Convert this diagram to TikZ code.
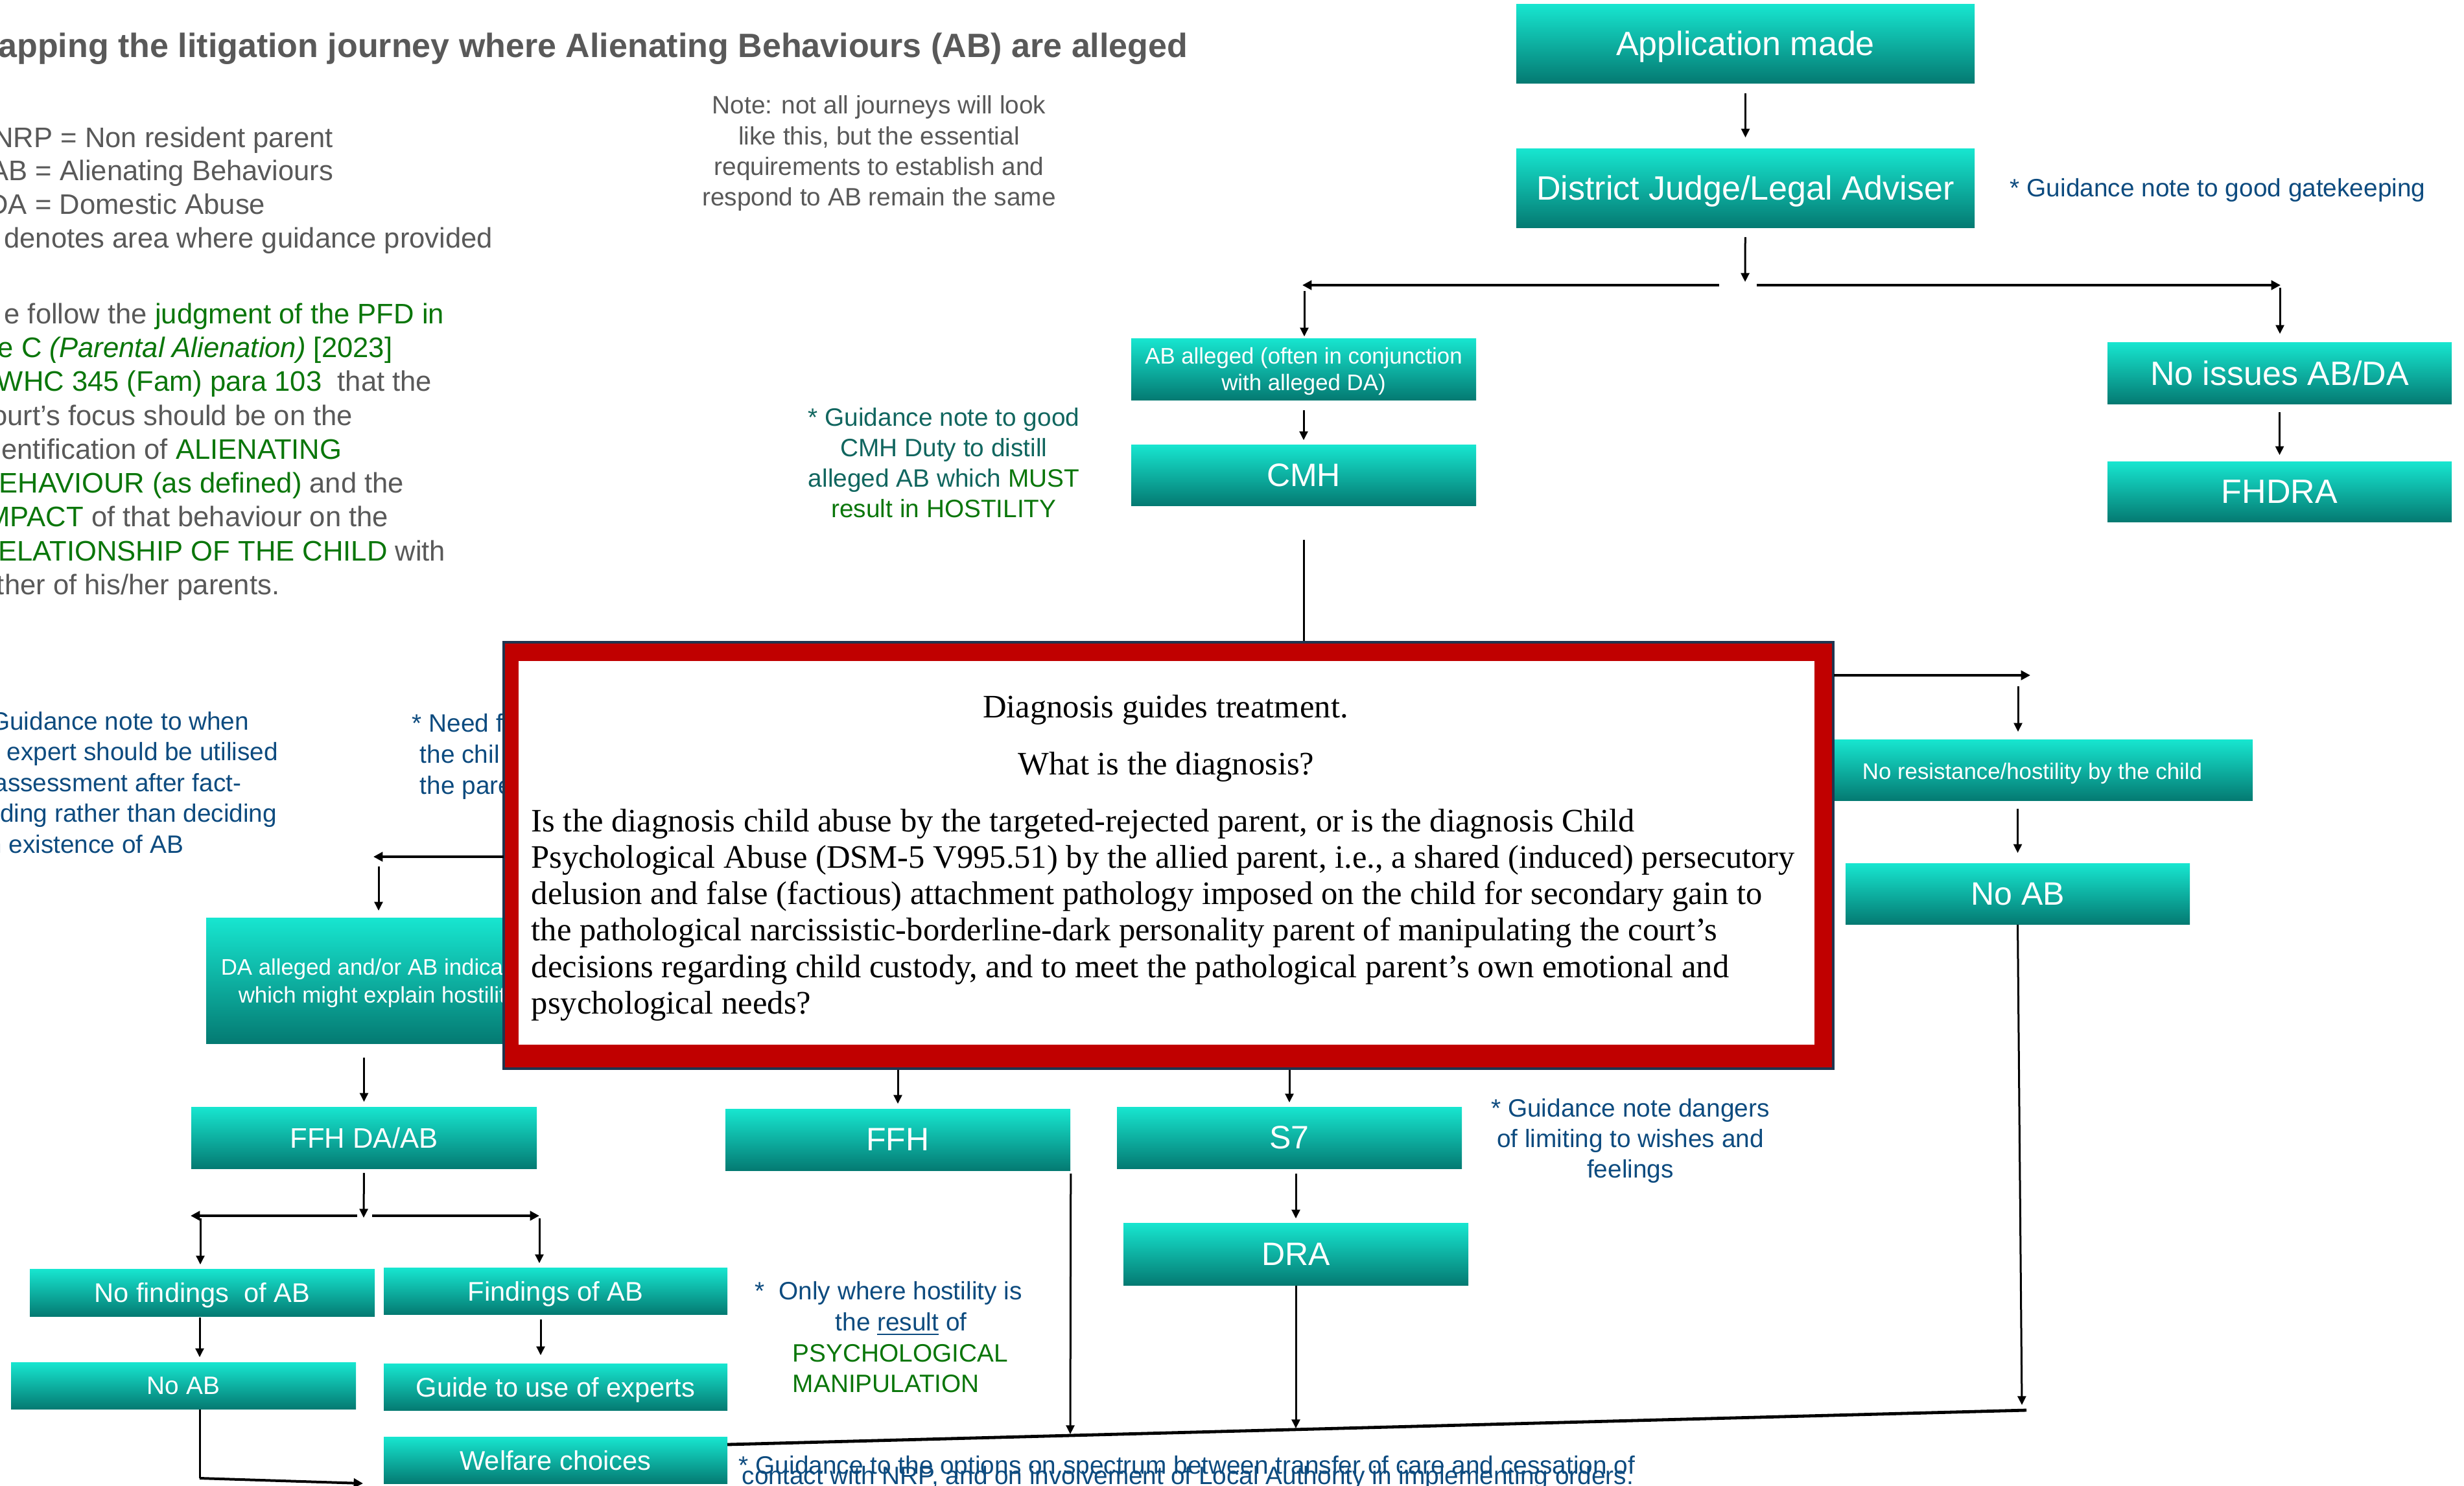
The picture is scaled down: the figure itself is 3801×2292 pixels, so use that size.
\documentclass[tikz,border=0pt]{standalone}
\usepackage{fontspec}
\setmainfont{Liberation Sans}
\newfontfamily\dxfont{Liberation Serif}
\usetikzlibrary{arrows.meta}
\definecolor{tealtop}{HTML}{17E6D0}
\definecolor{tealbot}{HTML}{047A72}
\definecolor{txtgray}{HTML}{595959}
\definecolor{lawgreen}{HTML}{0A760A}
\definecolor{noteblue}{HTML}{0D4B7F}
\definecolor{noteteal}{HTML}{11665F}
\definecolor{boxred}{HTML}{C00000}
\definecolor{boxnavy}{HTML}{1F3550}
\newcommand\G[1]{\textcolor{lawgreen}{#1}}
\newcommand\bx[7][]{\node[tbox,minimum width={(#5-#3)*0.25pt},minimum height={(#6-#4)*0.25pt},#1] (#2) at ({(#3+#5)/2},{(#4+#6)/2}) {#7};}
\tikzset{
  tbox/.style={rectangle,inner sep=0pt,top color=tealtop,bottom color=tealbot,text=white,align=center,text depth=0pt},
  txt/.style={inner sep=0pt},
  fbig/.style={font=\fontsize{13}{15.6}\selectfont},
  flab/.style={font=\fontsize{12.5}{15}\selectfont},
  fmid/.style={font=\fontsize{10.4}{12.5}\selectfont},
  fsml/.style={font=\fontsize{8.7}{10.25}\selectfont},
  fleg/.style={font=\fontsize{10.9}{13}\selectfont},
  fnote/.style={font=\fontsize{9.7}{11.6}\selectfont},
  fdx/.style={font=\dxfont\fontsize{12.65}{14}\selectfont},
  arr/.style={draw=black,line width=0.75pt,-{Triangle[length=3.4pt,width=3.2pt]}},
  harr/.style={draw=black,line width=1pt,-{Triangle[length=3.6pt,width=3.6pt]}},
  ln/.style={draw=black,line width=0.75pt},
}
\begin{document}
\begin{tikzpicture}[x=0.25pt,y=-0.25pt]
\useasboundingbox (0,0) rectangle (3801,2292);
\fill[white] (0,0) rectangle (3801,2292);
\clip (0,0) rectangle (3801,2292);

% ---------- title and legend ----------
\node[txt,anchor=base east,text=txtgray,font=\bfseries\fontsize{13}{15.6}\selectfont] (title) at (1833,88) {apping the litigation journey where Alienating Behaviours (AB) are alleged};
\node[txt,fleg,anchor=base east,text=txtgray] (lg1) at (515,227) {NRP = Non resident parent};
\node[txt,fleg,anchor=base east,text=txtgray] (lg2) at (515,278) {AB = Alienating Behaviours};
\node[txt,fleg,anchor=base east,text=txtgray] (lg3) at (410,330) {DA = Domestic Abuse};
\node[txt,fleg,anchor=base east,text=txtgray] (lg4) at (761,382) {denotes area where guidance provided};

\node[txt,fleg,anchor=base east,text=txtgray] (p1) at (686,499) {e follow the \G{judgment of the PFD in}};
\node[txt,fleg,anchor=base east,text=txtgray] (p2) at (606,551) {\G{e C \textit{(Parental Alienation)} [2023]}};
\node[txt,fleg,anchor=base east,text=txtgray] (p3) at (667,603) {\G{WHC 345 (Fam) para 103}\ \ that the};
\node[txt,fleg,anchor=base east,text=txtgray] (p4) at (545,656) {ourt’s focus should be on the};
\node[txt,fleg,anchor=base east,text=txtgray] (p5) at (528,708) {entification of \G{ALIENATING}};
\node[txt,fleg,anchor=base east,text=txtgray] (p6) at (624,760) {\G{EHAVIOUR (as defined)} and the};
\node[txt,fleg,anchor=base east,text=txtgray] (p7) at (600,812) {\G{MPACT} of that behaviour on the};
\node[txt,fleg,anchor=base east,text=txtgray] (p8) at (688,865) {\G{ELATIONSHIP OF THE CHILD} with};
\node[txt,fleg,anchor=base east,text=txtgray] (p9) at (432,917) {ther of his/her parents.};

\node[txt,fnote,anchor=base,text=txtgray] (nt1) at (1356,175) {Note: not all journeys will look};
\node[txt,fnote,anchor=base,text=txtgray] (nt2) at (1356,223) {like this, but the essential};
\node[txt,fnote,anchor=base,text=txtgray] (nt3) at (1356,270) {requirements to establish and};
\node[txt,fnote,anchor=base,text=txtgray] (nt4) at (1356,317) {respond to AB remain the same};

% ---------- notes ----------
\node[txt,fnote,anchor=base west,text=noteblue] (gk) at (3100,303) {* Guidance note to good gatekeeping};

\node[txt,fnote,anchor=base,text=noteteal] (cm1) at (1456,657) {* Guidance note to good};
\node[txt,fnote,anchor=base,text=noteteal] (cm2) at (1456,704) {CMH Duty to distill};
\node[txt,fnote,anchor=base,text=noteteal] (cm3) at (1456,751) {alleged AB which \G{MUST}};
\node[txt,fnote,anchor=base,text=lawgreen] (cm4) at (1456,798) {result in HOSTILITY};

\node[txt,fnote,anchor=base east,text=noteblue] (ex1) at (385,1126) {Guidance note to when};
\node[txt,fnote,anchor=base east,text=noteblue] (ex2) at (430,1173) {n expert should be utilised};
\node[txt,fnote,anchor=base east,text=noteblue] (ex3) at (373,1221) {assessment after fact-};
\node[txt,fnote,anchor=base east,text=noteblue] (ex4) at (428,1268) {ding rather than deciding};
\node[txt,fnote,anchor=base east,text=noteblue] (ex5) at (284,1316) {n existence of AB};

\node[txt,fnote,anchor=base west,text=noteblue] (nf1) at (635,1129) {* Need f};
\node[txt,fnote,anchor=base west,text=noteblue] (nf2) at (647,1177) {the chil};
\node[txt,fnote,anchor=base west,text=noteblue] (nf3) at (647,1225) {the pare};

\node[txt,fnote,anchor=base,text=noteblue] (dn1) at (2515,1723) {* Guidance note dangers};
\node[txt,fnote,anchor=base,text=noteblue] (dn2) at (2515,1770) {of limiting to wishes and};
\node[txt,fnote,anchor=base,text=noteblue] (dn3) at (2515,1817) {feelings};

\node[txt,fnote,anchor=base west,text=noteblue] (ow1) at (1164,2005) {*~~Only where hostility is};
\node[txt,fnote,anchor=base,text=noteblue] (ow2) at (1390,2053) {the \underline{result} of};
\node[txt,fnote,anchor=base west,text=lawgreen] (ow3) at (1222,2101) {PSYCHOLOGICAL};
\node[txt,fnote,anchor=base west,text=lawgreen] (ow4) at (1222,2148) {MANIPULATION};

\node[txt,fnote,anchor=base west,text=noteblue] (bt1) at (1139,2274) {* Guidance to the options on spectrum between transfer of care and cessation of};
\node[txt,fnote,anchor=base west,text=noteblue] (bt2) at (1144,2290) {contact with NRP, and on involvement of Local Authority in implementing orders.};

% ---------- boxes ----------
\bx[fbig]{app}{2339}{6}{3046}{128}{Application made}
\bx[fbig]{dj}{2339}{229}{3046}{351}{District Judge/Legal Adviser}
\bx[fsml]{aba}{1745}{522}{2277}{617}{AB alleged (often in conjunction\\with alleged DA)}
\bx[flab]{cmh}{1745}{686}{2277}{780}{CMH}
\bx[fbig]{noiss}{3251}{528}{3782}{623}{No issues AB/DA}
\bx[fbig]{fhdra}{3251}{712}{3782}{805}{FHDRA}
\bx{nores}{2829}{1141}{3475}{1235}{}
\node[txt,fsml,text=white,text depth=0pt] (nrtxt) at (3135,1190) {No resistance/hostility by the child};
\bx[flab]{noab}{2847}{1332}{3378}{1426}{No AB}
\bx{da}{318}{1416}{900}{1610}{}
\node[txt,fsml,anchor=base west,text=white] (da1) at (340,1504) {DA alleged and/or AB indicat};
\node[txt,fsml,anchor=base west,text=white] (da2) at (367,1547) {which might explain hostilit};
\bx[fleg]{ffhda}{295}{1708}{828}{1803}{FFH DA/AB}
\bx[flab]{ffh}{1119}{1711}{1651}{1806}{FFH}
\bx[flab]{s7}{1723}{1708}{2255}{1803}{S7}
\bx[flab]{dra}{1733}{1887}{2265}{1983}{DRA}
\bx[fmid]{nofind}{46}{1958}{578}{2031}{No findings\ \ of AB}
\bx[fmid]{find}{592}{1956}{1122}{2028}{Findings of AB}
\bx[fnote]{noabs}{17}{2102}{549}{2174}{No AB}
\bx[fmid]{guide}{592}{2104}{1122}{2176}{Guide to use of experts}
\bx[fmid]{welf}{592}{2217}{1122}{2289}{Welfare choices}

% ---------- diagnosis box ----------
\node[draw=boxnavy,line width=1pt,fill=boxred,inner sep=0pt,minimum width={(2828-777)*0.25pt},minimum height={(1649-991)*0.25pt}] (diag) at ({(777+2828)/2},{(991+1649)/2}) {};
\node[fill=white,inner sep=0pt,minimum width={(2799-800)*0.25pt},minimum height={(1612-1020)*0.25pt}] (diagin) at ({(800+2799)/2},{(1020+1612)/2}) {};
\node[txt,fdx,anchor=base] (dg1) at (1798,1107) {Diagnosis guides treatment.};
\node[txt,fdx,anchor=base] (dg2) at (1799,1195) {What is the diagnosis?};
\node[txt,fdx,anchor=base west] (dg3) at (819,1283) {Is the diagnosis child abuse by the targeted-rejected parent, or is the diagnosis Child};
\node[txt,fdx,anchor=base west] (dg4) at (819,1339) {Psychological Abuse (DSM-5 V995.51) by the allied parent, i.e., a shared (induced) persecutory};
\node[txt,fdx,anchor=base west] (dg5) at (819,1395) {delusion and false (factious) attachment pathology imposed on the child for secondary gain to};
\node[txt,fdx,anchor=base west] (dg6) at (819,1451) {the pathological narcissistic-borderline-dark personality parent of manipulating the court’s};
\node[txt,fdx,anchor=base west] (dg7) at (819,1508) {decisions regarding child custody, and to meet the pathological parent’s own emotional and};
\node[txt,fdx,anchor=base west] (dg8) at (819,1564) {psychological needs?};

% ---------- connectors ----------
\coordinate (sp1) at (2692,440);
\draw[arr,shorten <=3.75pt,shorten >=4pt] (app) -- (dj);
\draw[arr,shorten <=3.5pt,shorten >=1.25pt] (dj) -- (sp1);
\coordinate (sp1l) at (2652,440); \coordinate (sp1le) at (2009,440);
\coordinate (sp1r) at (2710,440); \coordinate (sp1re) at (3518,440);
\draw[harr] (sp1l) -- (sp1le);
\draw[harr] (sp1r) -- (sp1re);
\coordinate (c1) at (2012,449);
\draw[arr,shorten >=0.5pt] (c1) -- (c1 |- aba.north);
\coordinate (c2) at (3517,444);
\draw[arr,shorten >=3pt] (c2) -- (c2 |- noiss.north);
\draw[arr,shorten <=3pt,shorten >=2.25pt] (noiss) -- (fhdra);
\draw[arr,shorten <=3.75pt,shorten >=1.5pt] (aba) -- (cmh);
\draw[ln,shorten <=13pt] (cmh) -- (cmh |- diag.north);

\coordinate (r1) at (2829,1042); \coordinate (r1e) at (3132,1042);
\draw[harr] (r1) -- (r1e);
\coordinate (c3) at (3113,1059);
\draw[arr,shorten >=2.75pt] (c3) -- (c3 |- nores.north);
\draw[arr,shorten <=3pt,shorten >=3.75pt] (noab.north |- nores.south) -- (noab.north);
\coordinate (e3) at (3119,2168);
\draw[arr] (noab.south) -- (e3);

\coordinate (l1) at (777,1322); \coordinate (l1e) at (576,1322);
\draw[harr] (l1) -- (l1e);
\coordinate (c4) at (584,1337);
\draw[arr,shorten >=2.5pt] (c4) -- (c4 |- da.north);
\draw[arr,shorten <=5.25pt,shorten >=1.75pt] (ffhda.north |- da.south) -- (ffhda.north);
\draw[arr,shorten >=1.75pt] (ffh.north |- diag.south) -- (ffh.north);
\draw[arr,shorten >=1.5pt] (s7.north |- diag.south) -- (s7.north);
\draw[arr,shorten <=1.75pt,shorten >=1.5pt] (dra.north |- s7.south) -- (dra.north);

\coordinate (w1) at (1122,2229); \coordinate (w2) at (3126,2176);
\draw[black,line width=1.2pt] (w1) -- (w2);
\coordinate (e1) at (1651,2213); \coordinate (e2) at (1999,2204);
\draw[arr,shorten <=1pt] (ffh.south east) -- (e1);
\draw[arr] (dra.south) -- (e2);

\coordinate (sp2) at (561,1879);
\draw[arr,shorten <=1.5pt] (ffhda.south) -- (sp2);
\coordinate (sp2l) at (551,1876); \coordinate (sp2le) at (294,1876);
\coordinate (sp2r) at (574,1876); \coordinate (sp2re) at (832,1876);
\draw[harr] (sp2l) -- (sp2le);
\draw[harr] (sp2r) -- (sp2re);
\coordinate (c5) at (309,1880);
\draw[arr,shorten >=1.5pt] (c5) -- (c5 |- nofind.north);
\coordinate (c6) at (832,1880);
\draw[arr,shorten >=1.5pt] (c6) -- (c6 |- find.north);
\coordinate (c7) at (308,0);
\draw[arr,shorten <=0.25pt,shorten >=1.75pt] (c7 |- nofind.south) -- (c7 |- noabs.north);
\coordinate (c8) at (834,0);
\draw[arr,shorten <=1.75pt,shorten >=3pt] (c8 |- find.south) -- (c8 |- guide.north);
\coordinate (b1) at (308,2281); \coordinate (b2) at (560,2289);
\draw[ln] (c7 |- noabs.south) -- (b1);
\draw[harr] (b1) -- (b2);
\end{tikzpicture}
\end{document}
